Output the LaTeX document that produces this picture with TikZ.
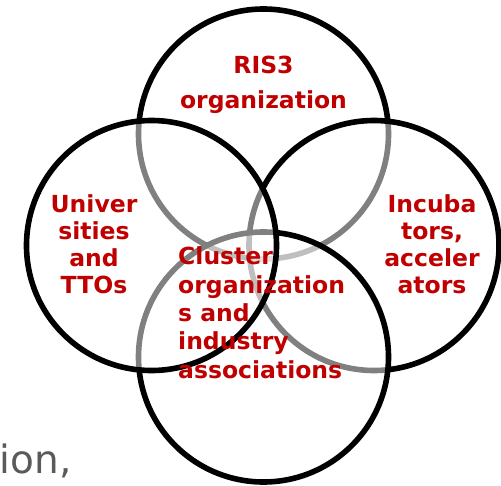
\documentclass[tikz,border=0pt]{standalone}
\usepackage{fontspec}
\setmainfont{DejaVu Sans}
\definecolor{labred}{HTML}{C00000}
\definecolor{bggrey}{HTML}{5A5A5A}
\begin{document}
\begin{tikzpicture}[x=1pt,y=-1pt,
  ring/.style={circle, draw=black, line width=5.6pt, fill=white, fill opacity=0.5, draw opacity=1, minimum size=250pt, inner sep=0pt},
  lab/.style={text=labred, font=\bfseries\fontsize{23.5}{27}\selectfont, inner sep=0pt, anchor=base}]
\useasboundingbox (0,0) rectangle (501,485);
\fill[white] (0,0) rectangle (501,485);
% background fragment of slide text
\node[text=bggrey, font=\fontsize{39}{44}\selectfont, anchor=base west, inner sep=0pt] (bg) at (-0.5,473) {ion,};
% circles, drawing order: top, right, bottom, left
\node[ring] (ctop) at (263.5,134) {};
\node[ring] (cright) at (374,245.5) {};
\node[ring] (cbottom) at (263.5,357) {};
\node[ring] (cleft) at (151.5,245.5) {};
% labels (base anchor = baseline of last line)
\node[lab, align=center] (ris) at (263.5,108) {RIS3\\[8pt]organization};
\node[lab, align=center, font=\bfseries\fontsize{23.5}{26.7}\selectfont] (uni) at (94,293) {Univer\\sities\\and\\TTOs};
\node[lab, align=center, font=\bfseries\fontsize{23.5}{26.7}\selectfont] (inc) at (432,293) {Incuba\\tors,\\acceler\\ators};
\node[lab, align=left, anchor=base west, font=\bfseries\fontsize{23.5}{28.3}\selectfont] (clu) at (178,378) {Cluster\\organization\\s and\\industry\\associations};
\end{tikzpicture}
\end{document}
